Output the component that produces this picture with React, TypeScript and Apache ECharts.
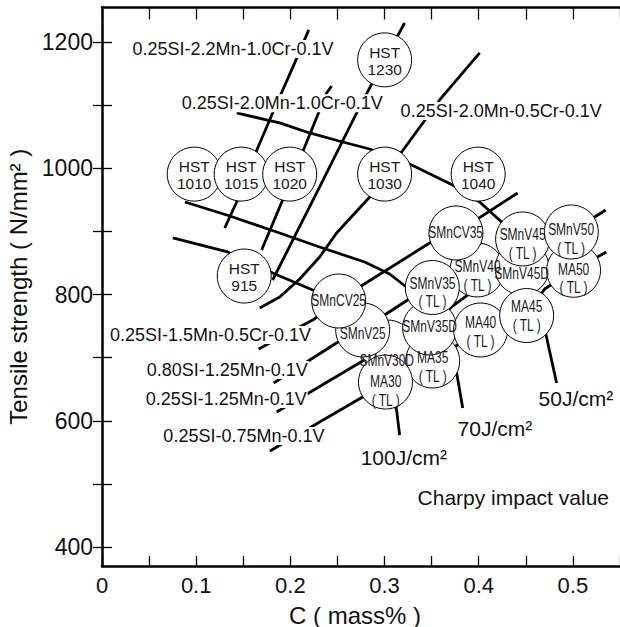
import React, { useEffect, useRef } from 'react';
import * as echarts from 'echarts';

const FONT = '"Liberation Sans", Arial, Helvetica, sans-serif';
const INK = '#111';

// axes
const xMin = 0;
const xMax = 0.55;
const xStep = 0.05;
const yMin = 370;
const yMax = 1255;
const yTickValues = [400, 500, 600, 700, 800, 900, 1000, 1100, 1200];
const yLabelValues = [400, 600, 800, 1000, 1200];

// steel grades (circles), in drawing order: [C mass%, tensile strength]
const steelNames = [
  'HST\n1010', 'HST\n1015', 'HST\n1020', 'HST\n1030', 'HST\n1040', 'HST\n1230', 'HST\n915',
  'SMnV30D', 'MA35\n( TL )', 'MA30\n( TL )', 'SMnV25', 'SMnCV25', 'SMnV40\n( TL )', 'SMnV35D',
  'SMnV35\n( TL )', 'SMnCV35', 'SMnV45D', 'SMnV45\n( TL )', 'MA40\n( TL )', 'MA45\n( TL )',
  'MA50\n( TL )', 'SMnV50\n( TL )',
];
const steelCircles = [
  [0.0979, 991], [0.1478, 991], [0.1993, 991], [0.3001, 991], [0.3994, 991], [0.3001, 1172], [0.151, 829.5],
  [0.3033, 717], [0.3511, 694.8], [0.301, 661.5], [0.2768, 744], [0.2513, 789.9], [0.3983, 839.1], [0.3479, 747.1],
  [0.3507, 811.3], [0.3758, 897.7], [0.4461, 842.2], [0.4466, 888.2], [0.402, 744], [0.4509, 766.9],
  [0.5007, 838.6], [0.4983, 899.3],
];
const steelLabelAt = [
  [0.0979, 989], [0.1478, 989], [0.1993, 989], [0.3001, 989], [0.3994, 989], [0.3001, 1171], [0.151, 827.5],
  [0.3023, 696.4], [0.3511, 685.3], [0.3012, 647.3], [0.2768, 739.2], [0.2513, 791.5], [0.3988, 829.5], [0.3479, 749.2],
  [0.3509, 803.4], [0.3755, 899.3], [0.4456, 833.8], [0.4466, 880.3], [0.402, 740.8], [0.4509, 766.1],
  [0.5007, 825.6], [0.4981, 888.7],
];
const steelCondensed = [
  false, false, false, false, false, false, false,
  true, true, true, true, true, true, true, true, true, true, true, true, true, true, true,
];

// composition lines
const line22Mn10Cr = [[0.1303, 905.6], [0.143, 946.8], [0.1653, 1032.4], [0.1812, 1087.9], [0.2046, 1167.2], [0.2195, 1219.5]];
const line20Mn10Cr = [[0.1695, 870.7], [0.1918, 950], [0.2152, 1034], [0.2385, 1119.6], [0.2438, 1130.7]];
const line1230 = [[0.1812, 823.2], [0.2311, 970.6], [0.2736, 1097.4], [0.2842, 1127.5], [0.3001, 1171.9], [0.3213, 1230.5]];
const line20Mn05Cr = [[0.1674, 778.8], [0.1887, 796.2], [0.2099, 824.8], [0.2311, 859.6], [0.2491, 897.7], [0.2842, 954.8], [0.3001, 991.2], [0.3182, 1026.1], [0.3585, 1108.5], [0.401, 1183]];
const line15Mn05Cr = [[0.1663, 713.8], [0.2237, 759.8], [0.2513, 789.9], [0.2768, 815.3], [0.3479, 881.8], [0.3758, 897.7], [0.4413, 961.1]];
const line080Si = [[0.1823, 659.9], [0.2489, 723.3], [0.2768, 744], [0.3001, 767.7], [0.3245, 791.5], [0.3507, 811.3], [0.3983, 839.1], [0.4328, 862.8], [0.4466, 888.2], [0.4983, 899.3], [0.5347, 934.2]];
const line125Mn = [[0.1855, 614], [0.2767, 694.8], [0.3033, 717], [0.3479, 747.1], [0.3723, 782], [0.3882, 799.4], [0.4461, 842.2]];
const line075Mn = [[0.1783, 552.2], [0.2767, 637.8], [0.301, 661.5], [0.3511, 694.8], [0.402, 744], [0.4509, 766.9], [0.47, 808.9], [0.5007, 838.6], [0.5355, 867.6]];

// Charpy impact value lines
const charpy50 = [[0.143, 1087.9], [0.1886, 1072.1], [0.2205, 1056.2], [0.2555, 1041.9], [0.2842, 1030.8], [0.3288, 1005.4], [0.3723, 973.8], [0.401, 946.8], [0.4243, 915.1], [0.4466, 888.2], [0.4461, 842.2], [0.4509, 766.9], [0.471, 739.2], [0.4827, 659.9]];
const charpy70 = [[0.088, 946.8], [0.1358, 924.6], [0.1886, 897.7], [0.2311, 875.5], [0.2789, 851.7], [0.3054, 832.7], [0.3245, 810.5], [0.3507, 811.3], [0.3479, 747.1], [0.3511, 694.8], [0.3766, 675.8], [0.383, 620.3]];
const charpy100 = [[0.0751, 889.8], [0.1334, 867.6], [0.1812, 834.3], [0.2237, 807.4], [0.2513, 789.9], [0.2768, 744], [0.3033, 717], [0.3012, 661.5], [0.3128, 617.1], [0.316, 577.5]];

const allLines = [line22Mn10Cr, line20Mn10Cr, line1230, line20Mn05Cr, line15Mn05Cr, line080Si, line125Mn, line075Mn, charpy50, charpy70, charpy100];

// annotation texts (left edge, middle)
const noteTexts = [
  '0.25SI-2.2Mn-1.0Cr-0.1V', '0.25SI-2.0Mn-1.0Cr-0.1V', '0.25SI-2.0Mn-0.5Cr-0.1V', '0.25SI-1.5Mn-0.5Cr-0.1V',
  '0.80SI-1.25Mn-0.1V', '0.25SI-1.25Mn-0.1V', '0.25SI-0.75Mn-0.1V',
  '50J/cm²', '70J/cm²', '100J/cm²', 'Charpy impact value',
];
const notePoints = [
  [0.0312, 1189.3], [0.0835, 1103.3], [0.316, 1091.1], [0.0074, 736],
  [0.0464, 680.5], [0.0453, 634.6], [0.0641, 575.9],
  [0.4625, 636.2], [0.3765, 588.6], [0.2736, 542.7], [0.334, 479.3],
];
const noteSizes = [18, 18, 18, 18, 18, 18, 18, 21, 21, 21, 21];

export default function App() {
  const ref = useRef<HTMLDivElement>(null);
  useEffect(() => {
    if (!ref.current) return;
    const chart = echarts.init(ref.current, undefined, { renderer: 'svg' });
    const axisLine = { onZero: false, lineStyle: { color: '#000', width: 2.5 } };
    const tickStyle = { color: '#000', width: 1.3 };
    const xFormatter = (v: number) => {
      const t = Math.round(v * 100);
      if (t % 10 !== 0) return '';
      return t === 0 ? '0' : (t / 100).toFixed(1);
    };
    const lineSeries = allLines.map((pts) => ({
      type: 'line',
      data: pts,
      symbol: 'none',
      silent: true,
      z: 2,
      lineStyle: { color: '#000', width: 2.8 },
      emphasis: { disabled: true },
    }));
    const option: any = {
      animation: false,
      backgroundColor: '#fff',
      grid: { left: 102, right: 0, top: 7.5, bottom: 61, containLabel: false, outerBoundsMode: 'none' },
      xAxis: [
        {
          type: 'value', min: xMin, max: xMax, interval: xStep, position: 'bottom',
          axisLine, axisTick: { inside: true, length: 10, lineStyle: tickStyle },
          axisLabel: { formatter: xFormatter, fontSize: 22, color: INK, fontFamily: FONT, margin: 8 },
          splitLine: { show: false },
          name: 'C ( mass% )', nameLocation: 'middle', nameGap: 38,
          nameTextStyle: { fontSize: 24, lineHeight: 22, color: INK, fontFamily: FONT, padding: [0, 12, 0, 0] },
        },
        {
          type: 'value', min: xMin, max: xMax, interval: xStep, position: 'top',
          axisLine, axisTick: { inside: true, length: 12, lineStyle: tickStyle },
          axisLabel: { show: false }, splitLine: { show: false },
        },
      ],
      yAxis: [
        {
          type: 'value', min: yMin, max: yMax, position: 'left',
          axisLine, axisTick: { inside: true, length: 10, lineStyle: tickStyle, customValues: yTickValues },
          axisLabel: {
            customValues: yLabelValues, fontSize: 23, color: INK, fontFamily: FONT, margin: 9,
            formatter: (v: number) => String(v),
          },
          splitLine: { show: false },
          name: 'Tensile strength ( N/mm² )', nameLocation: 'middle', nameGap: 68,
          nameTextStyle: { fontSize: 24, color: INK, fontFamily: FONT },
        },
        {
          type: 'value', min: yMin, max: yMax, position: 'right',
          axisLine: { show: false }, axisTick: { show: true, inside: true, length: 9, lineStyle: tickStyle, customValues: yTickValues },
          axisLabel: { show: false }, splitLine: { show: false },
        },
      ],
      series: [
        ...lineSeries,
        {
          type: 'custom',
          z: 3,
          silent: true,
          data: notePoints,
          renderItem: (params: any, api: any) => {
            const i = params.dataIndex;
            const p = api.coord([api.value(0), api.value(1)]);
            return {
              type: 'text',
              x: p[0],
              y: p[1],
              style: {
                text: noteTexts[i],
                fontSize: noteSizes[i],
                fontFamily: FONT,
                fill: INK,
                align: 'left',
                verticalAlign: 'middle',
                backgroundColor: i < 7 ? '#fff' : 'transparent',
                padding: [0, 1, 0, 1],
              },
            };
          },
        },
        {
          type: 'scatter',
          z: 4,
          silent: true,
          data: steelCircles,
          symbol: 'circle',
          symbolSize: 54,
          itemStyle: { color: '#fff', borderColor: '#000', borderWidth: 1, opacity: 1 },
          emphasis: { disabled: true },
        },
        {
          type: 'custom',
          z: 5,
          silent: true,
          data: steelLabelAt,
          renderItem: (params: any, api: any) => {
            const i = params.dataIndex;
            const p = api.coord([api.value(0), api.value(1)]);
            const cond = steelCondensed[i];
            return {
              type: 'text',
              x: p[0],
              y: p[1],
              scaleX: cond ? 0.75 : 1,
              style: {
                text: steelNames[i],
                fontSize: cond ? 16 : 15.5,
                lineHeight: cond ? 18.5 : 17,
                fontFamily: FONT,
                fill: '#1a1a1a',
                align: 'center',
                verticalAlign: 'middle',
              },
            };
          },
        },
      ],
    };
    chart.setOption(option);
    return () => chart.dispose();
  }, []);
  return (
    <div
      ref={ref}
      style={{ position: 'absolute', left: 0, top: 0, width: 620, height: 627, background: '#fff' }}
    />
  );
}
